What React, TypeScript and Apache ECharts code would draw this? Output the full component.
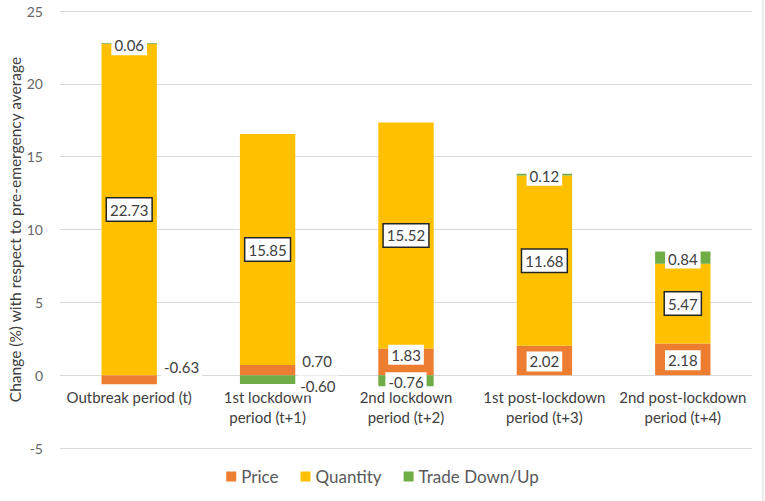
import React, { useEffect, useRef } from "react";
import * as echarts from "echarts";

const categories = [
  "Outbreak period (t)",
  "1st lockdown\nperiod (t+1)",
  "2nd lockdown\nperiod (t+2)",
  "1st post-lockdown\nperiod (t+3)",
  "2nd post-lockdown\nperiod (t+4)",
];
const priceValues = [-0.63, 0.7, 1.83, 2.02, 2.18];
const quantityValues = [22.73, 15.85, 15.52, 11.68, 5.47];
const tradeValues = [0.06, -0.6, -0.76, 0.12, 0.84];

// label placement (style, not data)
const priceLabelPos: any[] = [
  { position: "right", offset: [-1, -13] },
  { position: "right", offset: [-1, -9] },
  { position: "inside", offset: [0, -7] },
  { position: "inside", offset: [0, 1] },
  { position: "inside", offset: [0, 1] },
];
const tradeLabelPos: any[] = [
  { position: "inside", offset: [0, 1.5] },
  { position: "right", offset: [-3, 6] },
  { position: "inside", offset: [0, 1.5] },
  { position: "inside", offset: [0, 1] },
  { position: "inside", offset: [0, 1] },
];

const FONT = "Lato, 'Liberation Sans', sans-serif";
const TXT = "#404040";

function buildItems(values: number[], pos: any[]) {
  return values.map((v, i) => {
    const p = pos[i];
    return {
      value: v,
      label: {
        show: true,
        position: p.position,
        offset: p.offset,
        backgroundColor: "#ffffff",
        padding: [3, 3, 2, 3],
      },
    };
  });
}

export default function App() {
  const ref = useRef<HTMLDivElement>(null);
  useEffect(() => {
    if (!ref.current) return;
    const chart = echarts.init(ref.current, undefined, { renderer: "svg" });
    const baseLabel = {
      show: true,
      fontFamily: FONT,
      fontSize: 15,
      color: TXT,
      formatter: (p: any) => Number(p.value).toFixed(2),
    };
    chart.setOption({
      animation: false,
      backgroundColor: "#ffffff",
      textStyle: { fontFamily: FONT },
      grid: {
        left: 60,
        right: 13,
        top: 11,
        bottom: 53,
        containLabel: false,
        outerBoundsMode: "none",
      },
      legend: {
        bottom: 11,
        left: "center",
        icon: "rect",
        itemWidth: 10,
        itemHeight: 10,
        itemGap: 22,
        textStyle: { fontFamily: FONT, fontSize: 17, color: "#595959" },
        data: ["Price", "Quantity", "Trade Down/Up"],
      },
      xAxis: {
        type: "category",
        data: categories,
        offset: -73,
        axisLine: { show: true, onZero: false, lineStyle: { color: "#d9d9d9", width: 1 } },
        axisTick: { show: false },
        axisLabel: {
          fontFamily: FONT,
          fontSize: 15,
          color: TXT,
          margin: 12,
          lineHeight: 20,
          interval: 0,
        },
      },
      yAxis: {
        type: "value",
        min: -5,
        max: 25,
        interval: 5,
        name: "Change (%) with respect to pre-emergency average",
        nameLocation: "middle",
        nameGap: 37,
        nameMoveOverlap: false,
        nameTextStyle: { fontFamily: FONT, fontSize: 15.5, color: TXT },
        axisLine: { show: false },
        axisTick: { show: false },
        axisLabel: { fontFamily: FONT, fontSize: 14, color: "#666666", margin: 17 },
        splitLine: { lineStyle: { color: "#d9d9d9", width: 1 } },
      },
      series: [
        {
          name: "Price",
          type: "bar",
          stack: "total",
          barWidth: "40%",
          itemStyle: { color: "#ED7D31" },
          label: baseLabel,
          data: buildItems(priceValues, priceLabelPos),
        },
        {
          name: "Quantity",
          type: "bar",
          stack: "total",
          barWidth: "40%",
          itemStyle: { color: "#FFC000" },
          label: {
            ...baseLabel,
            position: "inside",
            backgroundColor: "#ffffff",
            borderColor: "#262626",
            borderWidth: 1.5,
            padding: [4, 3, 3, 3],
          },
          data: quantityValues,
        },
        {
          name: "Trade Down/Up",
          type: "bar",
          stack: "total",
          barWidth: "40%",
          itemStyle: { color: "#70AD47" },
          label: baseLabel,
          data: buildItems(tradeValues, tradeLabelPos),
        },
      ],
      graphic: [
        {
          type: "line",
          shape: { x1: 763, y1: 0, x2: 763, y2: 501 },
          style: { stroke: "#d9d9d9", lineWidth: 1 },
        },
      ],
    });
    return () => chart.dispose();
  }, []);
  return (
    <div
      ref={ref}
      style={{ position: "fixed", left: 0, top: 0, width: 765, height: 501 }}
    />
  );
}
